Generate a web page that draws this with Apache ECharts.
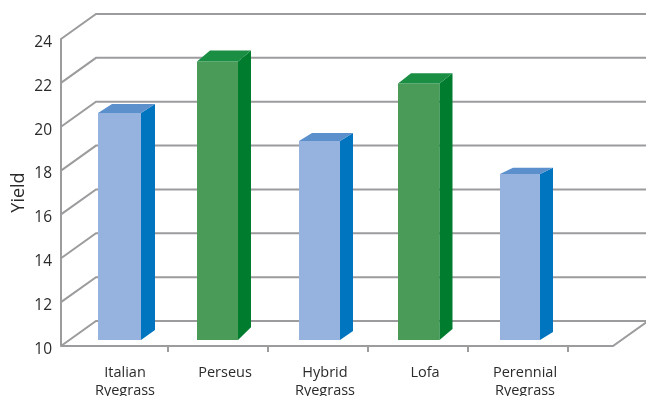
<!DOCTYPE html>
<html><head><meta charset="utf-8">
<style>html,body{margin:0;padding:0;background:#fff}#c{width:646px;height:396px}</style>
<script src="https://cdn.jsdelivr.net/npm/echarts@6/dist/echarts.min.js"></script></head>
<body><div id="c"></div>
<script>
const categories = ['Italian\nRyegrass', 'Perseus', 'Hybrid\nRyegrass', 'Lofa', 'Perennial\nRyegrass'];
const yields = [20.35, 22.7, 19.07, 21.7, 17.57];
const paletteIndex = [0, 1, 0, 1, 0];
const yTicks = [10, 12, 14, 16, 18, 20, 22, 24];

const palettes = [
  {front: '#95B3DE', side: '#0075BF', top: '#5B90CC'},
  {front: '#4A9A58', side: '#007C2E', top: '#1A8E43'}
];
const LINE = '#9C9C9F';
const TEXT = '#2B2B2B';
const WALL_DX = 35, WALL_DY = 25, AXIS_LEFT = 7, FLOOR_RIGHT = 45;
const BAR_SHIFT_Y = 6;
// hand-drawn perspective of the original: per-bar styling of the 3D faces
const faceWidths = [43, 41, 41, 41.5, 40];
const faceNudges = [1.5, -0.5, 1.5, 0.75, 2];
const sideDepths = [14, 13, 13, 13, 13];
const riseTop = [9, 11, 8, 10.3, 6.3];
const riseBottom = [10, 12.7, 9, 11, 8];

const lineStyle = {stroke: LINE, lineWidth: 2, fill: null};

function renderWall(params, api) {
  const g = params.coordSys;
  const p = api.coord([0, api.value(0)]);
  const x0 = g.x - AXIS_LEFT;
  return {type: 'polyline', shape: {points: [
    [x0, p[1]], [x0 + WALL_DX, p[1] - WALL_DY], [g.x + g.width + FLOOR_RIGHT + WALL_DX, p[1] - WALL_DY]
  ]}, style: lineStyle};
}
function renderFloor(params, api) {
  const g = params.coordSys;
  const y = g.y + g.height;
  const xr = g.x + g.width + FLOOR_RIGHT;
  return {type: 'polyline', shape: {points: [
    [g.x - AXIS_LEFT, y], [xr, y], [xr + WALL_DX, y - WALL_DY]
  ]}, style: lineStyle};
}
function renderTick(params, api) {
  const g = params.coordSys;
  const c = api.coord([api.value(0), yTicks[0]]);
  const x = c[0] + api.size([1, 0])[0] / 2;
  return {type: 'line', shape: {x1: x, y1: g.y + g.height, x2: x, y2: g.y + g.height + 6},
    style: {stroke: LINE, lineWidth: 2}};
}
function renderBar(params, api) {
  const i = api.value(0);
  const top = api.coord([i, api.value(1)]);
  const base = api.coord([i, yTicks[0]]);
  const pal = palettes[paletteIndex[i]];
  const w = faceWidths[i], dx = sideDepths[i], rt = riseTop[i], rb = riseBottom[i];
  const l = top[0] - w / 2 + faceNudges[i], r = l + w;
  const b = base[1] - BAR_SHIFT_Y;
  const tt = top[1] - BAR_SHIFT_Y;
  return {type: 'group', children: [
    {type: 'rect', shape: {x: l, y: tt, width: w, height: b - tt}, style: {fill: pal.front}},
    {type: 'polygon', shape: {points: [[r, tt], [r + dx, tt - rt], [r + dx, b - rb], [r, b]]}, style: {fill: pal.side}},
    {type: 'polygon', shape: {points: [[l, tt], [l + dx, tt - rt], [r + dx, tt - rt], [r, tt]]}, style: {fill: pal.top}}
  ]};
}

const chart = echarts.init(document.getElementById('c'), null, {renderer: 'canvas'});
chart.setOption({
  animation: false,
  backgroundColor: '#fff',
  textStyle: {fontFamily: '"Open Sans", "Noto Sans", sans-serif'},
  grid: {left: 68, width: 500, top: 39, height: 307, containLabel: false, outerBoundsMode: 'none'},
  xAxis: {
    type: 'category', data: categories,
    axisLine: {show: false}, axisTick: {show: false},
    axisLabel: {interval: 0, color: TEXT, fontSize: 14.5, lineHeight: 18, margin: 18, verticalAlign: 'top', padding: [0, 0, 0, 14]}
  },
  yAxis: {
    type: 'value', min: 10, max: 24, interval: 2, offset: 7,
    name: 'Yield', nameLocation: 'middle', nameGap: 33, nameRotate: 90, nameMoveOverlap: false,
    nameTextStyle: {color: TEXT, fontSize: 18},
    axisLine: {show: true, lineStyle: {color: LINE, width: 2}},
    axisTick: {show: false}, splitLine: {show: false},
    axisLabel: {color: TEXT, fontSize: 15.5, margin: 9, verticalAlign: 'top', lineHeight: 7}
  },
  series: [
    {type: 'custom', z: 1, silent: true, renderItem: renderWall, data: yTicks.map(v => [v])},
    {type: 'custom', z: 1, silent: true, renderItem: renderFloor, data: [[0]]},
    {type: 'custom', z: 1, silent: true, renderItem: renderTick, data: categories.map((c, i) => [i])},
    {type: 'custom', z: 3, silent: true, renderItem: renderBar, data: yields.map((v, i) => [i, v])}
  ]
});
</script></body></html>
